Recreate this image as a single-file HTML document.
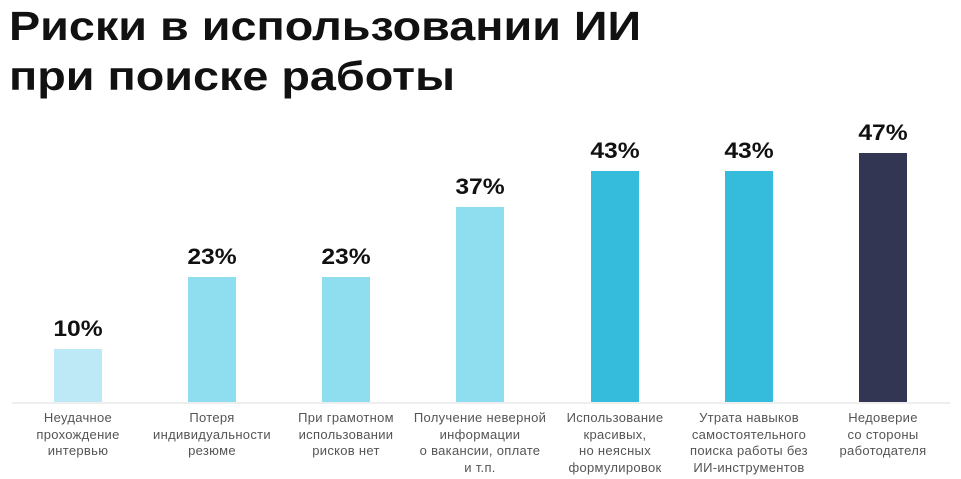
<!DOCTYPE html>
<html><head><meta charset="utf-8"><style>
body{margin:0;width:961px;height:479px;background:#fff;position:relative;overflow:hidden;font-family:"Liberation Sans",sans-serif}
.t{position:absolute;left:9px;font-size:41px;font-weight:bold;color:#111;line-height:48px;transform:scaleX(1.14);transform-origin:0 0;white-space:nowrap}
.bar{position:absolute;width:48px}
.v{position:absolute;width:120px;text-align:center;font-size:22px;font-weight:bold;color:#111;transform:scaleX(1.12)}
.c{position:absolute;width:150px;text-align:center;font-size:13px;color:#555;line-height:16.7px;top:410px;letter-spacing:0.3px}
.ax{position:absolute;left:12px;width:938px;top:402px;height:2px;background:#eee}
</style></head><body>
<div class="t" style="top:2px">Риски в использовании ИИ</div>
<div class="t" style="top:52px">при поиске работы</div>
<div class="ax"></div>
<div class="bar" style="left:54px;top:349px;height:53px;background:#bde9f7"></div>
<div class="bar" style="left:188px;top:277px;height:125px;background:#8fdef0"></div>
<div class="bar" style="left:322px;top:277px;height:125px;background:#8fdef0"></div>
<div class="bar" style="left:456px;top:207px;height:195px;background:#8fdef0"></div>
<div class="bar" style="left:591px;top:171px;height:231px;background:#35bcdc"></div>
<div class="bar" style="left:725px;top:171px;height:231px;background:#35bcdc"></div>
<div class="bar" style="left:859px;top:153px;height:249px;background:#323652"></div>
<div class="v" style="left:18px;top:316px">10%</div>
<div class="v" style="left:152px;top:244px">23%</div>
<div class="v" style="left:286px;top:244px">23%</div>
<div class="v" style="left:420px;top:174px">37%</div>
<div class="v" style="left:555px;top:138px">43%</div>
<div class="v" style="left:689px;top:138px">43%</div>
<div class="v" style="left:823px;top:120px">47%</div>
<div class="c" style="left:3px">Неудачное<br>прохождение<br>интервью</div>
<div class="c" style="left:137px">Потеря<br>индивидуальности<br>резюме</div>
<div class="c" style="left:271px">При грамотном<br>использовании<br>рисков нет</div>
<div class="c" style="left:405px">Получение неверной<br>информации<br>о вакансии, оплате<br>и т.п.</div>
<div class="c" style="left:540px">Использование<br>красивых,<br>но неясных<br>формулировок</div>
<div class="c" style="left:674px">Утрата навыков<br>самостоятельного<br>поиска работы без<br>ИИ-инструментов</div>
<div class="c" style="left:808px">Недоверие<br>со стороны<br>работодателя</div>
</body></html>
